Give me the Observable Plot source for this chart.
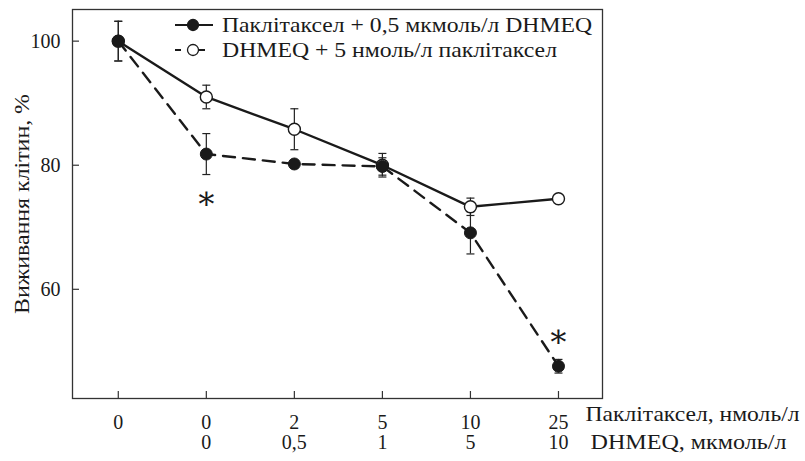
<!DOCTYPE html>
<html><head><meta charset="utf-8">
<script src="https://cdn.jsdelivr.net/npm/d3@7"></script>
<script src="https://cdn.jsdelivr.net/npm/@observablehq/plot@0.6"></script>
<style>body{margin:0;background:#fff}</style>
</head><body><div id="chart"></div>
<script>
// ---- data ----
const positions = [0, 1, 2, 3, 4, 5];
const paclitaxelTicks = ["0", "0", "2", "5", "10", "25"];
const dhmeqTicks = ["", "0", "0,5", "1", "5", "10"];
const solidValues = [100, 91.0, 85.8, 80.0, 73.3, 74.6];   // solid line, open circles
const solidErrors = [3.2, 1.9, 3.3, 1.9, 1.4, 0];
const dashedValues = [100, 81.8, 80.2, 79.8, 69.1, 47.6];  // dashed line, filled circles
const dashedErrors = [3.2, 3.3, 0, 1.4, 3.4, 1.1];
const yTicks = [60, 80, 100];
const sigPositions = [1, 5];
const sigValues = [74.6, 52.4];
const legendLabels = ["Паклітаксел + 0,5 мкмоль/л DHMEQ", "DHMEQ + 5 нмоль/л паклітаксел"];
const yLabel = "Виживання клітин, %";
const xUnitPaclitaxel = "Паклітаксел, нмоль/л";
const xUnitDhmeq = "DHMEQ, мкмоль/л";

// ---- layout ----
const W = 805, H = 461, mL = 72, mR = 203, mT = 9, mB = 63;
const innerW = W - mL - mR, innerH = H - mT - mB;
const ink = "#1a1a1a";
const serif = "Liberation Serif";
const starFont = "DejaVu Serif";

const rowsSolid = positions.map(i => ({i, v: solidValues[i], e: solidErrors[i]}));
const rowsDashed = positions.map(i => ({i, v: dashedValues[i], e: dashedErrors[i]}));
const errRows = [...rowsSolid, ...rowsDashed].filter(d => d.e > 0);

const capSymbol = {draw(ctx, size) { const r = Math.sqrt(size / Math.PI); ctx.moveTo(-r, 0); ctx.lineTo(r, 0); }};

const chart = Plot.plot({
  width: W, height: H,
  marginLeft: mL, marginRight: mR, marginTop: mT, marginBottom: mB,
  style: {fontSize: "20px", color: ink, background: "white"},
  x: {type: "linear", domain: [-0.52, 5.5]},
  y: {domain: [42.4, 105.1]},
  marks: [
    Plot.frame({stroke: "#333", strokeWidth: 1.3}),
    Plot.tickY(yTicks, {y: d => d, stroke: "#333", strokeWidth: 1.2, insetRight: innerW - 7}),
    Plot.tickX(positions, {x: d => d, stroke: "#333", strokeWidth: 1.2, insetTop: innerH - 7}),
    Plot.axisY(yTicks, {tickSize: 0, tickPadding: 12, fontSize: 20, fontFamily: serif, label: null}),
    Plot.axisX(positions, {tickSize: 0, tickPadding: 16, fontSize: 20, fontFamily: serif, label: null, tickFormat: i => paclitaxelTicks[i]}),
    Plot.text(positions, {x: d => d, text: i => dhmeqTicks[i], frameAnchor: "bottom", dy: 50, fontSize: 20, fontFamily: serif}),
    Plot.text([xUnitPaclitaxel], {x: () => 5, text: d => d, frameAnchor: "bottom", dx: 27, dy: 22, textAnchor: "start", fontSize: 21, fontFamily: serif}),
    Plot.text([xUnitDhmeq], {x: () => 5, text: d => d, frameAnchor: "bottom", dx: 32, dy: 50, textAnchor: "start", fontSize: 21, fontFamily: serif}),
    Plot.text([yLabel], {text: d => d, frameAnchor: "left", rotate: -90, dx: -50, dy: 110, textAnchor: "start", fontSize: 21, fontFamily: serif}),
    Plot.line(rowsSolid, {x: "i", y: "v", stroke: ink, strokeWidth: 2.4}),
    Plot.line(rowsDashed, {x: "i", y: "v", stroke: ink, strokeWidth: 2.4, strokeDasharray: "12,8"}),
    Plot.ruleX(errRows, {x: "i", y1: d => d.v - d.e, y2: d => d.v + d.e, stroke: "#222", strokeWidth: 1.2}),
    Plot.dot(errRows, {x: "i", y: d => d.v - d.e, symbol: capSymbol, r: 4, stroke: "#222", strokeWidth: 1.2}),
    Plot.dot(errRows, {x: "i", y: d => d.v + d.e, symbol: capSymbol, r: 4, stroke: "#222", strokeWidth: 1.2}),
    Plot.dot(rowsSolid, {x: "i", y: "v", r: 6, fill: "white", stroke: ink, strokeWidth: 1.4}),
    Plot.dot(rowsDashed, {x: "i", y: "v", r: 6, fill: ink, stroke: ink, strokeWidth: 1}),
    Plot.text(sigPositions, {x: d => d, y: (d, k) => sigValues[k], text: () => "∗", fontSize: 32, fontFamily: starFont})
  ]
});
document.getElementById("chart").appendChild(chart);

// ---- legend (inside plot, top) ----
const svg = d3.select(chart);
const lg = svg.append("g").attr("fill", ink).attr("stroke", ink);
const rowsY = [25, 50];
legendLabels.forEach((label, k) => {
  const y = rowsY[k];
  lg.append("line").attr("x1", 175).attr("x2", 213).attr("y1", y).attr("y2", y)
    .attr("stroke-width", 2).attr("stroke-dasharray", k === 0 ? null : "6,18");
  lg.append("circle").attr("cx", 193).attr("cy", y).attr("r", 5.5)
    .attr("fill", k === 0 ? ink : "white").attr("stroke-width", 1.3);
  lg.append("text").attr("x", 222).attr("y", y).attr("dy", "0.35em").attr("stroke", "none")
    .attr("text-anchor", "start").attr("font-family", serif).attr("font-size", 21).text(label);
});

// ---- fonts & text widths (imitating the wider Computer Modern original) ----
const targetWidths = new Map([
  [legendLabels[0], 370], [legendLabels[1], 335],
  [xUnitPaclitaxel, 214], [xUnitDhmeq, 196], [yLabel, 220]
]);
svg.selectAll("text").each(function() {
  const t = this.textContent;
  this.style.setProperty("font-family", t === "∗" ? starFont : serif);
  if (targetWidths.has(t)) {
    this.setAttribute("textLength", targetWidths.get(t));
    this.setAttribute("lengthAdjust", "spacingAndGlyphs");
  }
});
</script></body></html>
